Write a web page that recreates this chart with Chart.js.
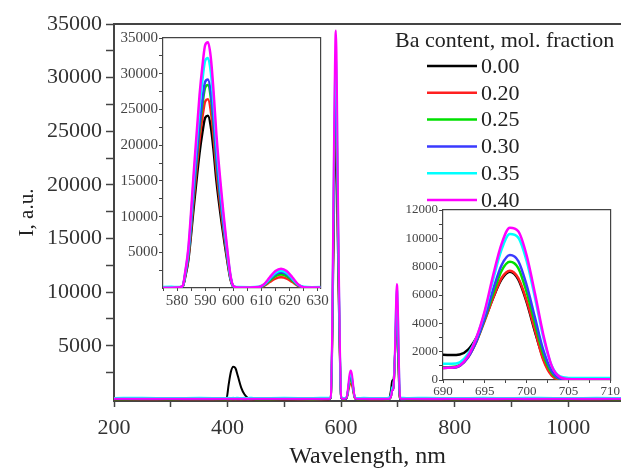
<!DOCTYPE html>
<html lang="en">
<head>
<meta charset="UTF-8">
<title>Emission spectra vs Ba content</title>
<script src="https://cdn.jsdelivr.net/npm/chart.js"></script>
<style>
  html, body { margin: 0; padding: 0; background: #fff; }
  #wrap { position: relative; width: 621px; height: 473px; overflow: hidden; }
  #wrap canvas { position: absolute; }
  #mainChart { left: 0; top: 0; }
  #insetA { left: 106px; top: 28px; }
  #insetB { left: 398px; top: 200px; }
</style>
</head>
<body>
<div id="wrap">
  <canvas id="mainChart" width="621" height="473"></canvas>
  <canvas id="insetA" width="224" height="285"></canvas>
  <canvas id="insetB" width="223" height="205"></canvas>
</div>
<script>
// wavelength, nm (denser around the emission lines)
const wavelength = [
  200, 250, 300, 350,
  398, 402, 406, 410, 414, 418, 424, 430, 436, 442, 450,
  500, 550, 578,
  580, 582, 583, 584, 586, 588, 589, 590, 591, 592, 593, 594, 596, 598, 599, 600, 602,
  606, 609, 611, 613, 615, 617, 619, 621, 623, 625, 628,
  640, 660, 684, 688,
  690, 691, 692, 693, 694, 695, 696, 697, 698, 699, 700, 701, 702, 703, 704, 705, 706, 708, 710,
  720, 750, 800, 850, 900, 950, 1000, 1050, 1093
];

// intensity, a.u., one array per Ba content
const ba000 = [
  20, 30, 20, 30,
  20, 1400, 2600, 3050, 2900, 2200, 1100, 450, 120, 30, 20,
  20, 30, 20,
  20, 210, 1750, 3860, 11570, 18930, 21730, 23830, 24110, 22640, 19280, 15070, 8760, 3500, 1260, 210, 20,
  20, 60, 420, 1160, 1850, 2100, 1850, 1160, 420, 80, 20,
  20, 30, 40, 900,
  1780, 1760, 1800, 2150, 3000, 4300, 5800, 7100, 7640, 7100, 5500, 3400, 1500, 400, 60, 20, 10, 10, 10,
  20, 30, 20, 30, 20, 30, 20, 30, 20
];
const ba020 = [
  10, 20, 10, 20,
  10, 20, 10, 20, 10, 20, 10, 20, 10, 20, 10,
  20, 10, 20,
  10, 230, 1920, 4220, 12670, 20740, 23810, 26110, 26420, 24810, 21120, 16510, 9600, 3840, 1380, 230, 10,
  10, 50, 300, 830, 1320, 1500, 1320, 830, 300, 60, 10,
  10, 20, 10, 300,
  850, 860, 1000, 1600, 2700, 4200, 5800, 7200, 7720, 7200, 5600, 3500, 1400, 300, 40, 10, 10, 10, 10,
  10, 20, 10, 20, 10, 20, 10, 20, 10
];
const ba025 = [
  20, 30, 20, 30,
  20, 30, 20, 30, 20, 30, 20, 30, 20, 30, 20,
  30, 20, 30,
  20, 250, 2070, 4540, 13630, 22300, 25610, 28080, 28410, 26680, 22720, 17760, 10330, 4130, 1490, 250, 20,
  20, 60, 380, 1050, 1670, 1900, 1670, 1050, 380, 80, 20,
  20, 30, 20, 300,
  900, 910, 1050, 1650, 2750, 4300, 6100, 7700, 8340, 7900, 6200, 4000, 1800, 500, 70, 20, 10, 10, 10,
  20, 30, 20, 30, 20, 30, 20, 30, 20
];
const ba030 = [
  40, 50, 40, 50,
  40, 50, 40, 50, 40, 50, 40, 50, 40, 50, 40,
  50, 40, 50,
  40, 250, 2120, 4670, 14010, 22920, 26320, 28870, 29200, 27420, 23350, 18250, 10610, 4250, 1530, 250, 40,
  30, 70, 440, 1210, 1940, 2200, 1940, 1210, 440, 90, 30,
  40, 50, 40, 300,
  850, 870, 1000, 1600, 2750, 4400, 6400, 8100, 8820, 8400, 6700, 4400, 2100, 650, 100, 30, 20, 20, 20,
  40, 50, 40, 50, 40, 50, 40, 50, 40
];
const ba035 = [
  130, 160, 120, 150,
  130, 160, 120, 150, 130, 160, 120, 150, 130, 160, 120,
  150, 130, 160,
  130, 280, 2340, 5150, 15440, 25270, 29020, 31820, 32200, 30230, 25740, 20120, 11700, 4680, 1680, 280, 130,
  120, 190, 480, 1320, 2110, 2400, 2110, 1320, 480, 180, 120,
  150, 130, 160, 500,
  1150, 1150, 1250, 1850, 3000, 4800, 7100, 9200, 10300, 10050, 8400, 5800, 3000, 1000, 250, 150, 140, 150, 150,
  130, 160, 120, 150, 130, 160, 120, 150, 130
];
const ba040 = [
  60, 70, 50, 60,
  60, 70, 50, 60, 60, 70, 50, 60, 60, 70, 50,
  60, 70, 50,
  60, 300, 2500, 5500, 16500, 27000, 31000, 34000, 34400, 32300, 27500, 21500, 12500, 5000, 1800, 300, 60,
  60, 130, 540, 1500, 2380, 2700, 2380, 1500, 540, 110, 60,
  60, 70, 50, 300,
  850, 870, 1020, 1700, 3000, 4900, 7400, 9600, 10750, 10500, 8800, 6100, 3200, 1000, 200, 70, 50, 50, 50,
  60, 70, 50, 60, 60, 70, 50, 60, 60
];

const seriesValues = [ba000, ba020, ba025, ba030, ba035, ba040];
const seriesLabels = ['0.00', '0.20', '0.25', '0.30', '0.35', '0.40'];
const legendTitle = 'Ba content, mol. fraction';

// tick positions
const mainXTicks = [200, 300, 400, 500, 600, 700, 800, 900, 1000];
const mainYTicks = [2500, 5000, 7500, 10000, 12500, 15000, 17500, 20000, 22500, 25000, 27500, 30000, 32500, 35000];
const insetAXTicks = [575, 580, 585, 590, 595, 600, 605, 610, 615, 620, 625, 630];
const insetAYTicks = [2500, 5000, 7500, 10000, 12500, 15000, 17500, 20000, 22500, 25000, 27500, 30000, 32500, 35000];
const insetBXTicks = [690, 692.5, 695, 697.5, 700, 702.5, 705, 707.5, 710];
const insetBYTicks = [0, 1000, 2000, 3000, 4000, 5000, 6000, 7000, 8000, 9000, 10000, 11000, 12000];

const colors = ['#000000', '#ff2020', '#00e000', '#3a3aff', '#00ffff', '#ff00ff'];
const serif = '"Liberation Serif", "Times New Roman", serif';
const axisColor = '#444';

function makeDatasets(width) {
  return seriesValues.map((vals, i) => ({
    label: seriesLabels[i],
    data: wavelength.map((w, k) => ({ x: w, y: vals[k] })),
    borderColor: colors[i],
    backgroundColor: colors[i],
    borderWidth: width,
    pointRadius: 0,
    cubicInterpolationMode: 'monotone',
    order: seriesValues.length - i
  }));
}

function setTicks(list) {
  return scale => { scale.ticks = list.map(v => ({ value: v })); };
}

// plain frame line (no ticks, no labels)
function frameAxis(position, width) {
  return {
    type: 'linear', position: position,
    ticks: { display: false },
    grid: { display: false, drawTicks: false },
    border: { display: true, color: axisColor, width: width },
    afterFit: s => { if (position === 'top') s.height = 0; else s.width = 0; }
  };
}

// legend drawn in the upper right of the main plot
const legendBox = {
  id: 'legendBox',
  afterDraw(chart) {
    const ctx = chart.ctx;
    ctx.save();
    ctx.font = '22px ' + serif;
    ctx.fillStyle = '#222';
    ctx.textBaseline = 'middle';
    ctx.fillText(legendTitle, 395, 41);
    chart.data.datasets.forEach((ds, i) => {
      const y = 66 + i * 26.8;
      ctx.strokeStyle = ds.borderColor;
      ctx.lineWidth = 2.5;
      ctx.beginPath();
      ctx.moveTo(427, y);
      ctx.lineTo(477, y);
      ctx.stroke();
      ctx.fillText(ds.label, 481, y + 1);
    });
    ctx.restore();
  }
};

new Chart(document.getElementById('mainChart'), {
  type: 'line',
  data: { datasets: makeDatasets(2) },
  options: {
    responsive: false,
    animation: false,
    layout: { padding: { top: 24, left: 0, right: 0, bottom: 0 } },
    plugins: { legend: { display: false }, tooltip: { enabled: false } },
    scales: {
      x: {
        type: 'linear', position: 'bottom', min: 200, max: 1093,
        afterBuildTicks: setTicks(mainXTicks),
        afterFit: s => { s.height = 72; },
        ticks: {
          callback: v => (v % 200 === 0 ? String(v) : ''),
          font: { family: serif, size: 22 }, color: '#333', padding: 8,
          maxRotation: 0, autoSkip: false
        },
        grid: { drawOnChartArea: false, tickLength: 6, color: axisColor, tickWidth: 1.5 },
        border: { color: axisColor, width: 2 },
        title: {
          display: true, text: 'Wavelength, nm',
          font: { family: serif, size: 24 }, color: '#222', padding: { bottom: 2 }
        }
      },
      xTop: frameAxis('top', 2),
      y: {
        type: 'linear', position: 'left', min: -150, max: 35000,
        afterBuildTicks: setTicks(mainYTicks),
        afterFit: s => { s.width = 114; },
        ticks: {
          callback: v => (v % 5000 === 0 ? String(v) : ''),
          font: { family: serif, size: 22 }, color: '#333', padding: 4, autoSkip: false
        },
        grid: { drawOnChartArea: false, tickLength: 8, color: axisColor, tickWidth: 1.5 },
        border: { color: axisColor, width: 2 },
        title: {
          display: true, text: 'I, a.u.',
          font: { family: serif, size: 21 }, color: '#222', padding: { top: 15 }
        }
      }
    }
  },
  plugins: [legendBox]
});

function insetOptions(cfg) {
  return {
    responsive: false,
    animation: false,
    layout: { padding: { top: cfg.padTop, right: cfg.padRight, left: 0, bottom: 0 } },
    plugins: { legend: { display: false }, tooltip: { enabled: false } },
    scales: {
      x: {
        type: 'linear', position: 'bottom', min: cfg.xMin, max: cfg.xMax,
        afterBuildTicks: setTicks(cfg.xTicks),
        afterFit: s => { s.height = cfg.xHeight; },
        ticks: {
          callback: cfg.xLabel,
          font: { family: serif, size: cfg.fontSize }, color: '#444', padding: 1,
          maxRotation: 0, autoSkip: false
        },
        grid: { drawOnChartArea: false, tickLength: 3, color: axisColor },
        border: { color: axisColor, width: 1.2 }
      },
      xTop: frameAxis('top', 1.2),
      y: {
        type: 'linear', position: 'left', min: cfg.yMin, max: cfg.yMax,
        afterBuildTicks: setTicks(cfg.yTicks),
        afterFit: s => { s.width = cfg.yWidth; },
        ticks: {
          callback: cfg.yLabel,
          font: { family: serif, size: cfg.fontSize }, color: '#444', padding: 1, autoSkip: false
        },
        grid: { drawOnChartArea: false, tickLength: 4, color: axisColor },
        border: { color: axisColor, width: 1.2 }
      },
      yRight: frameAxis('right', 1.2)
    }
  };
}

new Chart(document.getElementById('insetA'), {
  type: 'line',
  data: { datasets: makeDatasets(2.5) },
  options: insetOptions({
    padTop: 9, padRight: 8, xHeight: 25, yWidth: 57, fontSize: 15,
    xMin: 575, xMax: 631, xTicks: insetAXTicks,
    xLabel: v => (v % 10 === 0 ? String(v) : ''),
    yMin: 0, yMax: 35000, yTicks: insetAYTicks,
    yLabel: v => (v % 5000 === 0 ? String(v) : '')
  })
});

new Chart(document.getElementById('insetB'), {
  type: 'line',
  data: { datasets: makeDatasets(2.5) },
  options: insetOptions({
    padTop: 10, padRight: 9, xHeight: 25, yWidth: 45, fontSize: 13,
    xMin: 690, xMax: 710, xTicks: insetBXTicks,
    xLabel: v => (v % 5 === 0 ? String(v) : ''),
    yMin: 0, yMax: 12000, yTicks: insetBYTicks,
    yLabel: v => (v % 2000 === 0 ? String(v) : '')
  })
});
</script>
</body>
</html>
